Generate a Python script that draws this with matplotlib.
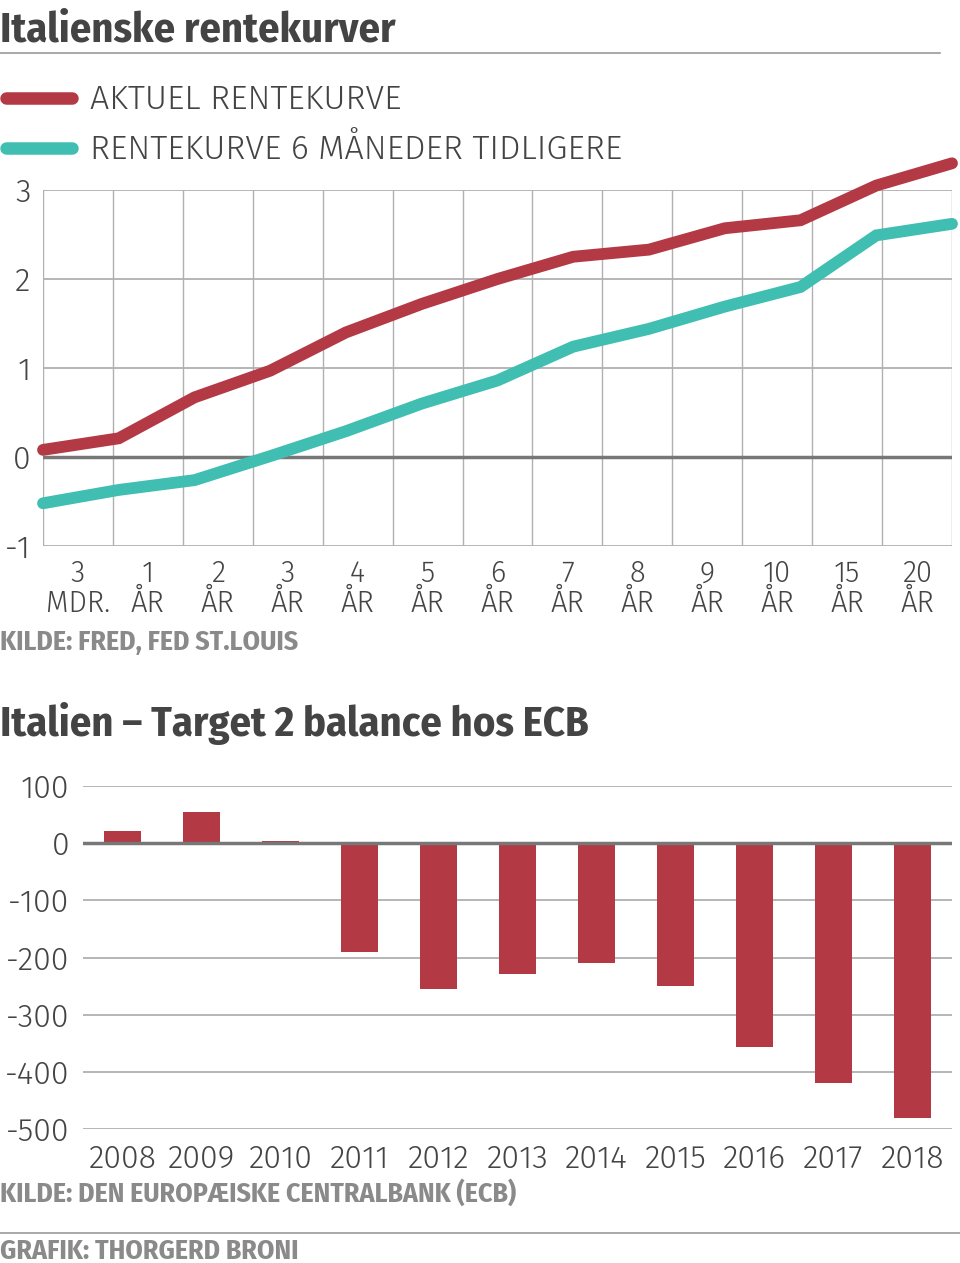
import matplotlib
matplotlib.use("Agg")
import matplotlib.pyplot as plt
from matplotlib import font_manager
from matplotlib.lines import Line2D

# --- data ---
maturity_top = ["3", "1", "2", "3", "4", "5", "6", "7", "8", "9", "10", "15", "20"]
maturity_bottom = ["MDR.", "ÅR", "ÅR", "ÅR", "ÅR", "ÅR", "ÅR", "ÅR", "ÅR", "ÅR", "ÅR", "ÅR", "ÅR"]
curve_now = [0.08, 0.21, 0.67, 0.97, 1.40, 1.72, 2.00, 2.25, 2.33, 2.57, 2.66, 3.05, 3.30]
curve_6m = [-0.52, -0.37, -0.26, 0.01, 0.29, 0.60, 0.86, 1.24, 1.44, 1.69, 1.91, 2.49, 2.62]

years = ["2008", "2009", "2010", "2011", "2012", "2013", "2014", "2015", "2016", "2017", "2018"]
target2 = [22, 54, 3, -191, -255, -229, -209, -249, -357, -420, -480]

RED = "#b33945"
TEAL = "#40beb2"
DARK = "#444444"
GREY_TXT = "#8a8a8a"
GRID = "#b0b0b0"

installed = {f.name for f in font_manager.fontManager.ttflist}
LIGHT = "Fira Sans" if "Fira Sans" in installed else "Roboto"
BOLD = "Fira Sans Condensed" if "Fira Sans Condensed" in installed else "Roboto"
plt.rcParams["font.family"] = [LIGHT, "DejaVu Sans"]
plt.rcParams["font.weight"] = 300

W, H = 960, 1263
fig = plt.figure(figsize=(W / 100, H / 100), dpi=100)


def px_axes(left, top, right, bottom):
    return fig.add_axes([left / W, 1 - bottom / H, (right - left) / W, (bottom - top) / H])


def fy(y):
    return 1 - y / H


def fx(x):
    return x / W


def heading(y, s):
    fig.text(0, fy(y), s, fontsize=30.5, fontweight="bold", family=[BOLD, "DejaVu Sans"],
             color=DARK, va="baseline", ha="left")


def source(y, s):
    fig.text(0, fy(y), s, fontsize=20, fontweight="bold", family=[BOLD, "DejaVu Sans"],
             color=GREY_TXT, va="baseline", ha="left")


# headers / footers
heading(42, "Italienske rentekurver")
fig.add_artist(Line2D([0, fx(940)], [fy(53), fy(53)], color="#999999", lw=1.2))

fig.add_artist(Line2D([fx(6), fx(72)], [fy(98), fy(98)], color=RED, lw=9,
                      solid_capstyle="round"))
fig.add_artist(Line2D([fx(6), fx(72)], [fy(148), fy(148)], color=TEAL, lw=9,
                      solid_capstyle="round"))
fig.text(fx(90), fy(109), "AKTUEL RENTEKURVE", fontsize=24.5, color=DARK, va="baseline")
fig.text(fx(90), fy(159), "RENTEKURVE 6 MÅNEDER TIDLIGERE", fontsize=24.5, color=DARK,
         va="baseline")

source(650, "KILDE: FRED, FED ST.LOUIS")
heading(736, "Italien – Target 2 balance hos ECB")
source(1202, "KILDE: DEN EUROPÆISKE CENTRALBANK (ECB)")
fig.add_artist(Line2D([0, 1], [fy(1233), fy(1233)], color="#999999", lw=1.2))
source(1259, "GRAFIK: THORGERD BRONI")

# --- top chart: yield curves ---
ax1 = px_axes(43, 190, 952, 546)
n = len(curve_now)
ax1.set_xlim(0, n)
ax1.set_ylim(-1, 3)
for i in range(n + 1):
    ax1.axvline(i, color=GRID, lw=1, zorder=1)
for v in [-1, 1, 2, 3]:
    ax1.axhline(v, color=GRID, lw=1.3, zorder=1)
ax1.axhline(0, color="#777777", lw=2.5, zorder=2)

xs = [i * n / (n - 1) for i in range(n)]
ax1.plot(xs, curve_6m, color=TEAL, lw=8.5, solid_capstyle="round",
         solid_joinstyle="miter", clip_on=False, zorder=3)
ax1.plot(xs, curve_now, color=RED, lw=8.5, solid_capstyle="round",
         solid_joinstyle="miter", clip_on=False, zorder=4)

for s in ax1.spines.values():
    s.set_visible(False)
ax1.set_yticks([-1, 0, 1, 2, 3])
ax1.set_yticklabels(["-1", "0", "1", "2", "3"])
ax1.tick_params(axis="y", length=0, pad=9, labelsize=23, labelcolor=DARK)
ax1.set_xticks([i + 0.5 for i in range(n)])
ax1.set_xticklabels([f"{a}\n{b}" for a, b in zip(maturity_top, maturity_bottom)],
                    linespacing=1.05)
ax1.tick_params(axis="x", length=0, pad=10, labelsize=21, labelcolor=DARK)

# --- bottom chart: Target 2 balance ---
ax2 = px_axes(83, 786, 952, 1129)
pos = list(range(len(years)))
ax2.bar(pos, target2, width=0.47, color=RED, zorder=3)
ax2.set_xlim(-0.5, len(years) - 0.5)
ax2.set_ylim(-500, 100)
for v in [-500, -400, -300, -200, -100, 100]:
    ax2.axhline(v, color=GRID, lw=1.3, zorder=1)
ax2.axhline(0, color="#777777", lw=2.5, zorder=4)
for s in ax2.spines.values():
    s.set_visible(False)
ax2.set_yticks([100, 0, -100, -200, -300, -400, -500])
ax2.set_yticklabels(["100", "0", "-100", "-200", "-300", "-400", "-500"])
ax2.tick_params(axis="y", length=0, pad=10, labelsize=23, labelcolor=DARK)
ax2.set_xticks(pos)
ax2.set_xticklabels(years)
ax2.tick_params(axis="x", length=0, pad=11, labelsize=23, labelcolor=DARK)

fig.savefig("out.png", dpi=100)
